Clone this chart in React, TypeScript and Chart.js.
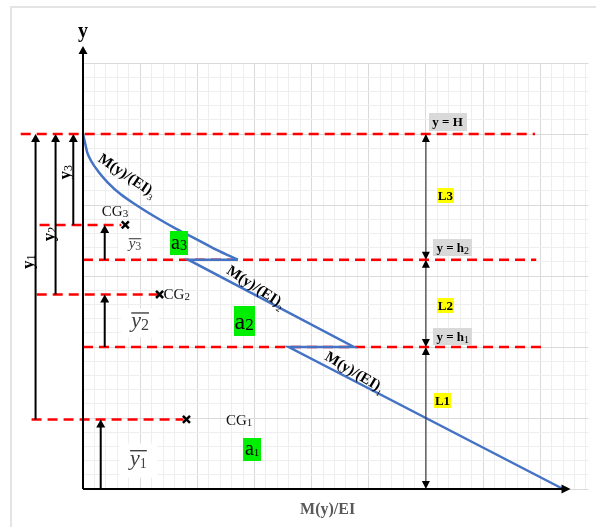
import React, { useEffect, useRef } from 'react';
import { Chart, registerables } from 'chart.js';

Chart.register(...registerables);

// ---- data (in chart units) ----
const xMax = 8.845;
const yMax = 6;
const curve3X = [0, 0.04, 0.074, 0.143, 0.26, 0.43, 0.66, 0.95, 1.29, 1.64, 1.98, 2.33, 2.71];
const curve3Y = [5, 4.86, 4.74, 4.62, 4.48, 4.32, 4.15, 3.99, 3.82, 3.66, 3.52, 3.37, 3.23];
const curve21X = [2.71, 1.84, 4.74, 3.6, 8.4];
const curve21Y = [3.23, 3.23, 2.0, 2.0, 0];
const dashY = [5, 3.23, 2, 3.72, 2.74, 0.98];
const dashX0 = [-1.09, 0, 0, -0.76, -0.81, -0.9];
const dashX1 = [7.91, 7.93, 8.05, 0.67, 1.45, 1.76];
const cgX = [1.81, 1.34, 0.74];
const cgY = [0.98, 2.74, 3.72];
const levelY = [5, 3.23, 2, 0];
const rightArrowX = 6.0;
const leftArrowX = [-0.83, -0.48, -0.17];
const barArrowX = [0.31, 0.38, 0.38];
const barArrowBase = [0, 2, 3.23];
const xArrowEnd = 8.53;
const yArrowEnd = 6.24;

const SERIF = '"Liberation Serif", "DejaVu Serif", serif';

type Part = { t: string; f: string; dy?: number };

function drawParts(ctx: CanvasRenderingContext2D, parts: Part[], x: number, y: number, align: 'left' | 'center') {
  ctx.textBaseline = 'alphabetic';
  ctx.textAlign = 'left';
  let w = 0;
  for (const p of parts) {
    ctx.font = p.f;
    w += ctx.measureText(p.t).width;
  }
  let cx = align === 'center' ? x - w / 2 : x;
  for (const p of parts) {
    ctx.font = p.f;
    ctx.fillText(p.t, cx, y + (p.dy || 0));
    cx += ctx.measureText(p.t).width;
  }
  return w;
}

function measureParts(ctx: CanvasRenderingContext2D, parts: Part[]) {
  let w = 0;
  for (const p of parts) {
    ctx.font = p.f;
    w += ctx.measureText(p.t).width;
  }
  return w;
}

function boxLabel(ctx: CanvasRenderingContext2D, parts: Part[], cx: number, cy: number, bg: string, padX: number, h: number, base: number) {
  const w = measureParts(ctx, parts);
  ctx.fillStyle = bg;
  ctx.fillRect(Math.round(cx - w / 2 - padX), Math.round(cy - h / 2), Math.round(w + 2 * padX), h);
  ctx.fillStyle = '#000';
  drawParts(ctx, parts, cx, cy + base, 'center');
}

function arrowHead(ctx: CanvasRenderingContext2D, x: number, y: number, dir: 'up' | 'down' | 'right', hw: number, len: number) {
  ctx.beginPath();
  if (dir === 'up') {
    ctx.moveTo(x, y);
    ctx.lineTo(x - hw, y + len);
    ctx.lineTo(x + hw, y + len);
  } else if (dir === 'down') {
    ctx.moveTo(x, y);
    ctx.lineTo(x - hw, y - len);
    ctx.lineTo(x + hw, y - len);
  } else {
    ctx.moveTo(x, y);
    ctx.lineTo(x - len, y - hw);
    ctx.lineTo(x - len, y + hw);
  }
  ctx.closePath();
  ctx.fill();
}

const annot = {
  id: 'annot',
  beforeDraw(chart: any) {
    const { ctx, width, height } = chart;
    ctx.save();
    ctx.fillStyle = '#fff';
    ctx.fillRect(0, 0, width, height);
    ctx.strokeStyle = '#e4e4e4';
    ctx.lineWidth = 2;
    ctx.beginPath();
    ctx.moveTo(11, height);
    ctx.lineTo(11, 7);
    ctx.lineTo(width, 7);
    ctx.stroke();
    ctx.restore();
  },
  afterDatasetsDraw(chart: any) {
    const ctx: CanvasRenderingContext2D = chart.ctx;
    const xs = chart.scales.x;
    const ys = chart.scales.y;
    const X = (v: number) => xs.getPixelForValue(v);
    const Y = (v: number) => ys.getPixelForValue(v);
    ctx.save();

    // axes
    ctx.strokeStyle = '#000';
    ctx.fillStyle = '#000';
    ctx.lineWidth = 2;
    ctx.beginPath();
    ctx.moveTo(X(0), Y(0));
    ctx.lineTo(X(0), Y(yArrowEnd) + 6);
    ctx.moveTo(X(0), Y(0));
    ctx.lineTo(X(xArrowEnd) - 6, Y(0));
    ctx.stroke();
    arrowHead(ctx, X(0), Y(yArrowEnd), 'up', 4.5, 8);
    arrowHead(ctx, X(xArrowEnd), Y(0), 'right', 4.5, 9);

    // left arrows y1, y2, y3
    ctx.lineWidth = 2;
    for (let i = 0; i < 3; i++) {
      const x = X(leftArrowX[i]);
      ctx.beginPath();
      ctx.moveTo(x, Y(cgY[i]));
      ctx.lineTo(x, Y(levelY[0]) + 6);
      ctx.stroke();
      arrowHead(ctx, x, Y(levelY[0]), 'up', 4.5, 8);
    }
    // bar arrows
    for (let i = 0; i < 3; i++) {
      const x = X(barArrowX[i]);
      ctx.beginPath();
      ctx.moveTo(x, Y(barArrowBase[i]));
      ctx.lineTo(x, Y(cgY[i]) + 6);
      ctx.stroke();
      arrowHead(ctx, x, Y(cgY[i]), 'up', 4.5, 8);
    }
    // right double arrows
    ctx.strokeStyle = '#3a3a3a';
    ctx.lineWidth = 1.2;
    for (let i = 0; i < 3; i++) {
      const x = X(rightArrowX);
      const t = Y(levelY[i]);
      const b = Y(levelY[i + 1]);
      ctx.beginPath();
      ctx.moveTo(x, t + 4);
      ctx.lineTo(x, b - 4);
      ctx.stroke();
      ctx.fillStyle = '#000';
      arrowHead(ctx, x, t, 'up', 4, 8);
      arrowHead(ctx, x, b, 'down', 4, 8);
    }

    // axis titles
    ctx.fillStyle = '#000';
    drawParts(ctx, [{ t: 'y', f: `bold 20px ${SERIF}` }], X(0), Y(6.44) + 5, 'center');
    ctx.fillStyle = '#595959';
    drawParts(ctx, [{ t: 'M(y)/EI', f: `bold 16px ${SERIF}` }], X(4.28), Y(-0.28) + 5, 'center');

    // gray level boxes
    boxLabel(ctx, [{ t: 'y = H', f: `bold 13px ${SERIF}` }], X(6.38), Y(5.17), '#d9d9d9', 3.5, 18, 4.5);
    boxLabel(ctx, [{ t: 'y = h', f: `bold 13px ${SERIF}` }, { t: '2', f: `10px ${SERIF}`, dy: 2 }], X(6.47), Y(3.4), '#d9d9d9', 3, 17, 4.5);
    boxLabel(ctx, [{ t: 'y = h', f: `bold 13px ${SERIF}` }, { t: '1', f: `10px ${SERIF}`, dy: 2 }], X(6.47), Y(2.15), '#d9d9d9', 3, 17, 4.5);

    // yellow boxes
    boxLabel(ctx, [{ t: 'L3', f: `bold 13px ${SERIF}` }], X(6.34), Y(4.13), '#ffff00', 1, 15, 4.5);
    boxLabel(ctx, [{ t: 'L2', f: `bold 13px ${SERIF}` }], X(6.34), Y(2.58), '#ffff00', 1, 15, 4.5);
    boxLabel(ctx, [{ t: 'L1', f: `bold 13px ${SERIF}` }], X(6.29), Y(1.24), '#ffff00', 1, 15, 4.5);

    // green boxes
    boxLabel(ctx, [{ t: 'a', f: `20px ${SERIF}` }, { t: '3', f: `14px ${SERIF}`, dy: 1 }], X(1.68), Y(3.46), '#00ee00', 1, 24, 6);
    boxLabel(ctx, [{ t: 'a', f: `24px ${SERIF}` }, { t: '2', f: `17px ${SERIF}`, dy: 1 }], X(2.82), Y(2.36), '#00ee00', 1, 30, 8);
    boxLabel(ctx, [{ t: 'a', f: `20px ${SERIF}` }, { t: '1', f: `11px ${SERIF}`, dy: 1 }], X(2.96), Y(0.56), '#00ee00', 2, 23, 6);

    // CG labels
    ctx.fillStyle = '#111';
    drawParts(ctx, [{ t: 'CG', f: `15px ${SERIF}` }, { t: '3', f: `11px ${SERIF}`, dy: 1 }], X(0.33), Y(3.91) + 5, 'left');
    drawParts(ctx, [{ t: 'CG', f: `15px ${SERIF}` }, { t: '2', f: `11px ${SERIF}`, dy: 1 }], X(1.41), Y(2.74) + 5, 'left');
    drawParts(ctx, [{ t: 'CG', f: `15px ${SERIF}` }, { t: '1', f: `11px ${SERIF}`, dy: 1 }], X(2.5), Y(0.97) + 5, 'left');

    // y-bar labels
    const barLabel = (cx: number, cy: number, size: number, sub: string, subSize: number, rw: number, rh: number) => {
      ctx.fillStyle = '#fff';
      ctx.fillRect(cx - rw / 2, cy - rh / 2, rw, rh);
      ctx.fillStyle = '#404040';
      const w = drawParts(ctx, [
        { t: 'y', f: `italic ${size}px ${SERIF}` },
        { t: sub, f: `${subSize}px ${SERIF}`, dy: size * 0.12 },
      ], cx, cy + size * 0.2, 'center');
      ctx.strokeStyle = '#404040';
      ctx.lineWidth = size > 18 ? 1.4 : 1.1;
      ctx.beginPath();
      ctx.moveTo(cx - w / 2, cy - size * 0.45);
      ctx.lineTo(cx + w / 2, cy - size * 0.45);
      ctx.stroke();
    };
    barLabel(X(0.91), Y(3.43), 15, '3', 12, 33, 22);
    barLabel(X(1.0), Y(2.34), 22, '2', 16, 38, 29);
    barLabel(X(0.97), Y(0.4), 22, '1', 14, 38, 34);

    // rotated y1, y2, y3
    ctx.fillStyle = '#000';
    const rotLabel = (cx: number, cy: number, sub: string) => {
      ctx.save();
      ctx.translate(cx, cy);
      ctx.rotate(-Math.PI / 2);
      drawParts(ctx, [{ t: 'y', f: `bold 17px ${SERIF}` }, { t: sub, f: `12px ${SERIF}`, dy: 2 }], 0, 5, 'center');
      ctx.restore();
    };
    rotLabel(X(-0.97), Y(3.2), '1');
    rotLabel(X(-0.6), Y(3.59), '2');
    rotLabel(X(-0.31), Y(4.46), '3');

    // M(y)/(EI) labels
    const mLabel = (cx: number, cy: number, deg: number, sub: string) => {
      ctx.save();
      ctx.translate(cx, cy);
      ctx.rotate((deg * Math.PI) / 180);
      ctx.fillStyle = '#000';
      drawParts(ctx, [{ t: 'M(y)/(EI)', f: `bold 15px ${SERIF}` }, { t: sub, f: `9px ${SERIF}`, dy: 4 }], 0, 5, 'center');
      ctx.restore();
    };
    mLabel(X(0.78), Y(4.42), 34, '3');
    mLabel(X(3.03), Y(2.85), 33, '2');
    mLabel(X(4.76), Y(1.65), 31, '1');

    ctx.restore();
  },
};

function gridColor(c: any) {
  const v = c.tick ? c.tick.value : 0;
  return Math.abs(v - Math.round(v)) < 1e-6 ? '#dadada' : '#eeeeee';
}

export default function App() {
  const ref = useRef<HTMLCanvasElement | null>(null);
  useEffect(() => {
    document.body.style.margin = '0';
    const canvas = ref.current;
    if (!canvas) return;
    const blue = '#4472C4';
    const datasets: any[] = [
      {
        data: curve3X.map((x, i) => ({ x, y: curve3Y[i] })),
        showLine: true,
        borderColor: blue,
        borderWidth: 2.5,
        pointRadius: 0,
        cubicInterpolationMode: 'monotone',
        clip: false,
      },
      {
        data: curve21X.map((x, i) => ({ x, y: curve21Y[i] })),
        showLine: true,
        borderColor: blue,
        borderWidth: 2.5,
        pointRadius: 0,
        tension: 0,
        clip: false,
      },
      {
        data: cgX.map((x, i) => ({ x, y: cgY[i] })),
        showLine: false,
        pointStyle: 'crossRot',
        pointRadius: 5,
        borderColor: '#000',
        borderWidth: 2.5,
        clip: false,
      },
    ];
    dashY.forEach((y, i) => {
      datasets.push({
        data: [
          { x: dashX0[i], y },
          { x: dashX1[i], y },
        ],
        showLine: true,
        borderColor: '#ff0000',
        borderWidth: 2.5,
        borderDash: [10, 6],
        pointRadius: 0,
        clip: false,
      });
    });
    const chart = new Chart(canvas, {
      type: 'scatter',
      data: { datasets },
      options: {
        responsive: false,
        animation: false,
        events: [],
        layout: { padding: { left: 83, top: 63, right: 0, bottom: 38 } },
        plugins: { legend: { display: false }, tooltip: { enabled: false } },
        scales: {
          x: {
            type: 'linear',
            min: 0,
            max: xMax,
            ticks: { display: false, stepSize: 0.2, autoSkip: false, includeBounds: false },
            grid: { color: gridColor, drawTicks: false, lineWidth: 1 },
            border: { display: false },
          },
          y: {
            type: 'linear',
            min: 0,
            max: yMax,
            ticks: { display: false, stepSize: 0.2, autoSkip: false, includeBounds: false },
            grid: { color: gridColor, drawTicks: false, lineWidth: 1 },
            border: { display: false },
          },
        },
      } as any,
      plugins: [annot as any],
    });
    return () => chart.destroy();
  }, []);
  return <canvas ref={ref} width={596} height={527} style={{ display: 'block' }} />;
}
